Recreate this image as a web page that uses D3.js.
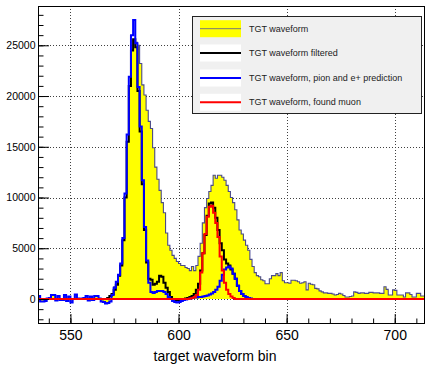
<!DOCTYPE html>
<html>
<head>
<meta charset="utf-8">
<script src="https://cdn.jsdelivr.net/npm/d3@7"></script>
<style>
  body { margin: 0; background: #fff; }
  svg { display: block; font-family: "Liberation Sans", Arial, sans-serif; }
</style>
</head>
<body>
<div id="chart"></div>
<script>
// bins are 1 unit wide, first bin starts at 535
const firstBin = 535
const lastEdge = 714

// TGT waveform (bins 535..713)
const waveform = [
  300, -250, -250, -200, 50, 100, 400, 400, -150, 300,
  -100, -100, 400, -200, 250, -350, 0, 450, 50, 0,
  50, 100, 300, -150, 250, -100, 300, 300, 50, -250,
  -300, -450, -400, -250, 400, 1200, 1600, 2300, 3300, 5800,
  10000, 15500, 21000, 24500, 25500, 25300, 25000, 23200, 21100, 20100,
  18600, 17500, 16800, 14900, 13000, 11800, 10700, 9500, 8500, 6500,
  5300, 4800, 4300, 4000, 3700, 3500, 3300, 3300, 3100, 3000,
  2800, 3200, 2800, 3300, 4200, 5500, 7500, 9000, 9900, 10600,
  11200, 12200, 11900, 12200, 12200, 12000, 11700, 11200, 10600, 10000,
  9500, 8800, 7800, 6800, 6400, 5800, 5300, 4800, 3900, 3200,
  2600, 2300, 2200, 1900, 1800, 1500, 1500, 2000, 2300, 2300,
  2500, 2300, 2600, 1800, 1600, 1600, 1550, 1850, 1850, 1800,
  1700, 1550, 1600, 1700, 900, 1550, 1450, 1400, 1050, 1000,
  800, 700, 600, 600, 550, 550, 500, 400, 450, 550,
  500, 350, 200, 200, 250, 300, 700, 650, 550, 600,
  600, 550, 550, 650, 650, 600, 600, 600, 550, 550,
  1200, 950, 400, 400, 900, 850, 400, 400, 400, 200,
  600, 600, 450, 200, 200, 550, 550, 300, 300
]

// pion and e+ prediction (bins 535..640)
const prediction = [
  300, -250, -250, -200, 50, 100, 400, 400, -150, 300,
  -100, -100, 400, -200, 250, -350, 0, 450, 50, 0,
  50, 100, 300, -150, 250, -100, 300, 300, 50, -250,
  -300, -450, -400, -250, 400, 1100, 1700, 2400, 3500, 6000,
  10400, 16200, 21900, 26000, 27500, 25200, 20900, 17000, 11700, 7100,
  3800, 1600, 700, 600, 700, 800, 800, 800, 700, 500,
  200, 0, -200, -300, -350, -300, -200, -100, -50, 0,
  50, 100, 150, 150, 200, 200, 250, 300, 350, 450,
  550, 700, 900, 1200, 1800, 2400, 2900, 3100, 3200, 3000,
  2500, 2000, 1300, 800, 500, 300, 200, 100, 50, 0
]

// filtered waveform (starts at bin 567)
const filteredStart = 567
const filtered = [
  100, 300, 500, 900, 1400, 2300, 3300, 5800, 10000, 15500,
  21000, 24500, 25600, 24800, 20500, 16500, 11300, 6800, 3600, 2000,
  1900, 1400, 1500, 1700, 2300, 2200, 1600, 1100, 700, 200,
  0, -100, -100, -100, 0, 0, 50, 100, 200, 300,
  500, 900, 1500, 2800, 4500, 6300, 8200, 9400, 9500, 9000,
  8000, 6800, 5500, 4800, 3900, 3500, 3300, 2900, 2500, 2000,
  1300, 800, 500, 300, 150, 50
]

// found muon (starts at bin 605)
const muonStart = 605
const muon = [
  50, 100, 200, 400, 900, 2600, 4500, 6400, 8100, 9100,
  9200, 8500, 7500, 6100, 4200, 2800, 1600, 900, 500, 250,
  100
]

const xTicks = [550, 600, 650, 700]
const yTicks = [0, 5000, 10000, 15000, 20000, 25000]
const legendLabels = [
  'TGT waveform',
  'TGT waveform filtered',
  'TGT waveform, pion and e+ prediction',
  'TGT waveform, found muon'
]
const xTitle = 'target waveform bin'

var width = 426, height = 366
var plot = { left: 38, right: 425, top: 6, bottom: 323 }

var x = d3.scaleLinear().domain([firstBin, lastEdge]).range([plot.left, plot.right])
var y = d3.scaleLinear().domain([-2365, 28873]).range([plot.bottom, plot.top])

// pad a series with zeros over the whole bin range
function fullSeries(start, vals) {
  var n = lastEdge - firstBin
  var out = []
  for (var i = 0; i < n; i++) {
    var b = firstBin + i
    var j = b - start
    out.push(j >= 0 && j < vals.length ? vals[j] : 0)
  }
  return out
}

// step points: each bin gives its two edges
function steps(vals) {
  var pts = []
  vals.forEach(function (v, i) {
    pts.push([firstBin + i, v])
    pts.push([firstBin + i + 1, v])
  })
  return pts
}

var svg = d3.select('#chart').append('svg')
  .attr('width', width)
  .attr('height', height)

svg.append('defs').append('clipPath').attr('id', 'clip')
  .append('rect')
  .attr('x', plot.left).attr('y', plot.top)
  .attr('width', plot.right - plot.left).attr('height', plot.bottom - plot.top)

// grid
var grid = svg.append('g')
  .attr('stroke', '#000').attr('stroke-width', 1)
  .attr('stroke-dasharray', '1,2').attr('opacity', 0.75)
grid.selectAll('.gx').data(xTicks).enter().append('line')
  .attr('x1', d => Math.round(x(d)) + 0.5).attr('x2', d => Math.round(x(d)) + 0.5)
  .attr('y1', plot.top).attr('y2', plot.bottom)
grid.selectAll('.gy').data(yTicks).enter().append('line')
  .attr('y1', d => Math.round(y(d)) + 0.5).attr('y2', d => Math.round(y(d)) + 0.5)
  .attr('x1', plot.left).attr('x2', plot.right)

var line = d3.line().x(d => x(d[0])).y(d => y(d[1]))
var area = d3.area().x(d => x(d[0])).y0(y(0)).y1(d => y(d[1]))

var hist = svg.append('g').attr('clip-path', 'url(#clip)')

var wave = steps(waveform)
hist.append('path').datum(wave)
  .attr('d', area)
  .attr('fill', '#ffff00')
hist.append('path').datum(wave)
  .attr('d', line)
  .attr('fill', 'none')
  .attr('stroke', '#2b2b8a')
  .attr('stroke-opacity', 0.85)
  .attr('stroke-width', 1.1)

hist.append('path').datum(steps(fullSeries(filteredStart, filtered)))
  .attr('d', line).attr('fill', 'none')
  .attr('stroke', '#000').attr('stroke-width', 2)

hist.append('path').datum(steps(fullSeries(firstBin, prediction)))
  .attr('d', line).attr('fill', 'none')
  .attr('stroke', '#0000ff').attr('stroke-width', 2)

hist.append('path').datum(steps(fullSeries(muonStart, muon)))
  .attr('d', line).attr('fill', 'none')
  .attr('stroke', '#ff0000').attr('stroke-width', 2)

// axes, ticks point inside the frame
var xAxis = svg.append('g')
  .attr('transform', 'translate(0,' + plot.bottom + ')')
  .call(d3.axisBottom(x).tickValues(xTicks).tickSize(-9).tickPadding(7).tickFormat(d3.format('d')))
svg.append('g')
  .attr('transform', 'translate(0,' + plot.bottom + ')')
  .call(d3.axisBottom(x).tickValues(d3.range(540, 714, 10)).tickSize(-4.5).tickFormat(''))

var yAxis = svg.append('g')
  .attr('transform', 'translate(' + plot.left + ',0)')
  .call(d3.axisLeft(y).tickValues(yTicks).tickSize(-11).tickPadding(2.5).tickFormat(d3.format('d')))
svg.append('g')
  .attr('transform', 'translate(' + plot.left + ',0)')
  .call(d3.axisLeft(y).tickValues(d3.range(-2000, 28001, 1000)).tickSize(-5.5).tickFormat(''))

svg.selectAll('.domain').remove()
svg.selectAll('.tick line').attr('stroke', '#000')
xAxis.selectAll('text').attr('font-size', 14).attr('fill', '#000')
  .style('font-family', '"Liberation Sans", Arial, sans-serif')
yAxis.selectAll('text').attr('font-size', 10.5).attr('fill', '#000')
  .style('font-family', '"Liberation Sans", Arial, sans-serif')

// frame
svg.append('rect')
  .attr('x', plot.left + 0.5).attr('y', plot.top + 0.5)
  .attr('width', plot.right - plot.left - 1).attr('height', plot.bottom - plot.top)
  .attr('fill', 'none').attr('stroke', '#000')

svg.append('text')
  .attr('x', 215).attr('y', 361)
  .attr('text-anchor', 'middle')
  .attr('font-size', 14)
  .text(xTitle)

// legend
var lg = svg.append('g')
lg.append('rect')
  .attr('x', 192.5).attr('y', 16.5).attr('width', 229).attr('height', 97)
  .attr('fill', '#f0f0f0').attr('stroke', '#222')

var rowY = [28.7, 53, 78, 102.3]
var symFill = ['#ffff00', '#fff', '#fff', '#fff']
var symLine = ['#777', '#000', '#0000ff', '#ff0000']
var symW = [1, 2, 2, 2]

legendLabels.forEach(function (label, i) {
  lg.append('rect')
    .attr('x', 200).attr('y', rowY[i] - 8.5).attr('width', 41).attr('height', 17)
    .attr('fill', symFill[i])
  lg.append('line')
    .attr('x1', 200).attr('x2', 241).attr('y1', rowY[i]).attr('y2', rowY[i])
    .attr('stroke', symLine[i]).attr('stroke-width', symW[i])
  lg.append('text')
    .attr('x', 249).attr('y', rowY[i]).attr('dy', '0.35em')
    .attr('font-size', 9).attr('fill', '#222')
    .text(label)
})
</script>
</body>
</html>
